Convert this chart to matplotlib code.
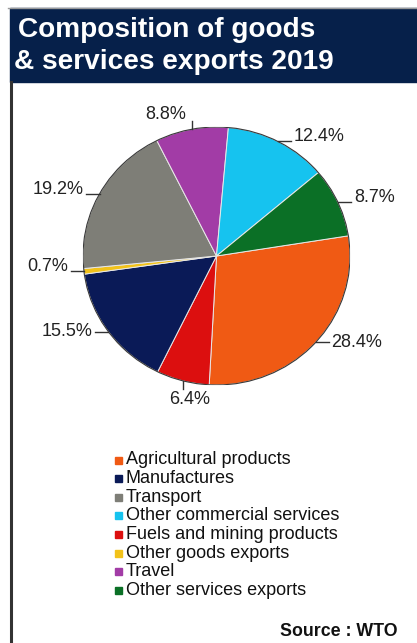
import numpy as np
import matplotlib
matplotlib.use('Agg')
import matplotlib.pyplot as plt
from matplotlib.patches import Rectangle

plt.rcParams['font.family'] = ['Liberation Sans', 'DejaVu Sans']

# Legend order (as listed under the chart)
categories = ['Agricultural products', 'Manufactures', 'Transport',
              'Other commercial services', 'Fuels and mining products',
              'Other goods exports', 'Travel', 'Other services exports']
shares = [28.4, 15.5, 19.2, 12.4, 6.4, 0.7, 8.8, 8.7]
colors = ['#F05A14', '#0A1A57', '#7E7E77', '#16C3EF',
          '#DC0F0F', '#F2C21A', '#A23CA6', '#0B7026']

# order of the slices round the pie, clockwise from the right
pie_order = ['Agricultural products', 'Fuels and mining products', 'Manufactures',
             'Other goods exports', 'Transport', 'Travel',
             'Other commercial services', 'Other services exports']

title_lines = ['Composition of goods', '& services exports 2019']
source_text = 'Source : WTO'

W, H = 417, 643
fig = plt.figure(figsize=(W / 100, H / 100), dpi=100)

# background layer in pixel coordinates
bg = fig.add_axes([0, 0, 1, 1])
bg.set_xlim(0, W)
bg.set_ylim(H, 0)
bg.axis('off')
bg.add_patch(Rectangle((10, 8), W - 10, 74, color='#06204A', zorder=1))
bg.plot([8, W], [8, 8], color='#9a9a9a', lw=1, zorder=2)
bg.plot([11, 11], [82, H], color='#333333', lw=2.2, zorder=2)
bg.text(18, 37, title_lines[0], color='white', fontsize=20.2,
        fontweight='bold', va='baseline', ha='left', zorder=3)
bg.text(14, 69, title_lines[1], color='white', fontsize=20.2,
        fontweight='bold', va='baseline', ha='left', zorder=3)

# legend, drawn by hand to keep the tight row pitch
for i, (cat, col) in enumerate(zip(categories, colors)):
    y = 460 + i * 18.6
    bg.add_patch(Rectangle((115, y - 3.5), 7, 7, color=col, zorder=3))
    bg.text(126, y, cat, fontsize=13, va='center', ha='left',
            color='#111111', zorder=3)

bg.text(398, 632, source_text, fontsize=12.8, fontweight='bold',
        ha='right', va='center', color='#111111')

# pie
idx = [categories.index(c) for c in pie_order]
vals = [shares[i] for i in idx]
cols = [colors[i] for i in idx]

ax = fig.add_axes([83 / W, (H - 385) / H, 267 / W, 258 / H])
wedges, _ = ax.pie(vals, colors=cols, startangle=9, counterclock=False,
                   radius=1, wedgeprops=dict(edgecolor='#e8e8e8', linewidth=0.7))
ax.add_patch(plt.Circle((0, 0), 1, fill=False, edgecolor='#3a3a3a', lw=0.8))
ax.set_aspect('auto')
ax.set_xlim(-1, 1)
ax.set_ylim(-1, 1)
ax.axis('off')

for w, v in zip(wedges, vals):
    th = np.deg2rad((w.theta1 + w.theta2) / 2)
    x, y = np.cos(th), np.sin(th)
    lab = f'{v:.1f}%'
    if abs(y) > 0.95:
        s = np.sign(y)
        ax.plot([x, x], [y, y + 0.065 * s], color='#333333', lw=1, clip_on=False)
        if s > 0:
            ax.text(x - 0.04, y + 0.08, lab, ha='right', va='baseline',
                    fontsize=13, color='#222222')
        else:
            ax.text(x + 0.05, y - 0.08, lab, ha='center', va='top',
                    fontsize=13, color='#222222')
    else:
        d = np.sign(x)
        ax.plot([x, x + 0.1 * d], [y, y], color='#333333', lw=1, clip_on=False)
        va = 'baseline' if y > -0.3 else 'center'
        ax.text(x + 0.12 * d, y, lab, ha='left' if d > 0 else 'right',
                va=va, fontsize=13, color='#222222')

fig.savefig('out.png', dpi=100)
